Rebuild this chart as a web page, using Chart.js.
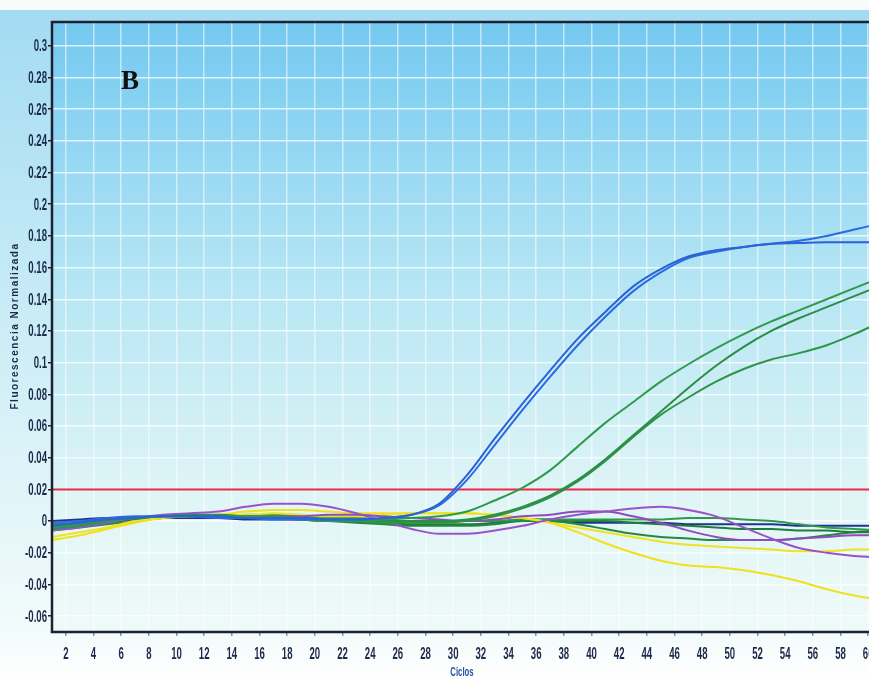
<!DOCTYPE html>
<html>
<head>
<meta charset="utf-8">
<script src="https://cdn.jsdelivr.net/npm/chart.js@4.4.0/dist/chart.umd.min.js"></script>
<style>
  html, body { margin: 0; padding: 0; background: #ffffff; overflow: hidden; }
  #wrap { width: 869px; height: 679px; overflow: hidden; }
  canvas { display: block; }
</style>
</head>
<body>
<div id="wrap"><canvas id="pcr" width="900" height="679"></canvas></div>
<script>
// Cycle positions of the sampled points
const cycles = [1, 3, 5, 7, 9, 11, 13, 15, 17, 19, 21, 23, 25, 27, 29, 31, 33, 35, 37, 39, 41, 43, 45, 47, 49, 51, 53, 55, 57, 59, 61];

// Amplified samples
const blueA = [-0.003, -0.001, 0.001, 0.002, 0.003, 0.003, 0.003, 0.002, 0.002, 0.002, 0.001, 0.001, 0.002, 0.004, 0.011, 0.029, 0.052, 0.074, 0.095, 0.115, 0.132, 0.148, 0.159, 0.167, 0.171, 0.173, 0.175, 0.1755, 0.176, 0.176, 0.176];
const blueB = [-0.001, 0.0, 0.002, 0.003, 0.003, 0.003, 0.002, 0.002, 0.001, 0.001, 0.001, 0.001, 0.002, 0.004, 0.010, 0.026, 0.048, 0.070, 0.091, 0.111, 0.129, 0.145, 0.157, 0.166, 0.170, 0.173, 0.175, 0.177, 0.180, 0.184, 0.188];
const greenA = [-0.004, -0.002, 0.0, 0.002, 0.003, 0.003, 0.003, 0.003, 0.002, 0.001, 0.0, 0.0, 0.001, 0.002, 0.003, 0.006, 0.013, 0.021, 0.032, 0.047, 0.062, 0.075, 0.088, 0.099, 0.109, 0.118, 0.126, 0.133, 0.140, 0.147, 0.154];
const greenB = [-0.003, -0.001, 0.001, 0.002, 0.003, 0.004, 0.004, 0.003, 0.002, 0.001, 0.0, 0.0, 0.0, 0.0, 0.0, 0.001, 0.004, 0.009, 0.016, 0.026, 0.039, 0.054, 0.069, 0.084, 0.098, 0.110, 0.120, 0.128, 0.135, 0.142, 0.149];
const greenC = [-0.005, -0.003, 0.0, 0.002, 0.003, 0.003, 0.003, 0.003, 0.003, 0.002, 0.001, 0.0, -0.001, -0.001, -0.001, 0.0, 0.003, 0.008, 0.015, 0.025, 0.038, 0.053, 0.067, 0.078, 0.088, 0.096, 0.102, 0.106, 0.111, 0.118, 0.126];

// Negative / background samples
const purpleA = [-0.006, -0.004, -0.001, 0.002, 0.004, 0.005, 0.006, 0.009, 0.011, 0.011, 0.009, 0.005, 0.0, -0.005, -0.008, -0.008, -0.006, -0.003, 0.001, 0.004, 0.006, 0.008, 0.009, 0.007, 0.003, -0.004, -0.011, -0.017, -0.020, -0.022, -0.023];
const purpleB = [-0.004, -0.002, 0.0, 0.002, 0.003, 0.003, 0.003, 0.003, 0.003, 0.003, 0.004, 0.004, 0.003, 0.002, 0.001, 0.0, 0.001, 0.003, 0.004, 0.006, 0.006, 0.003, -0.001, -0.006, -0.010, -0.012, -0.012, -0.011, -0.010, -0.009, -0.009];
const yellowA = [-0.012, -0.009, -0.005, -0.001, 0.002, 0.003, 0.004, 0.006, 0.007, 0.007, 0.006, 0.005, 0.005, 0.005, 0.005, 0.005, 0.004, 0.002, -0.001, -0.007, -0.014, -0.020, -0.025, -0.028, -0.029, -0.031, -0.034, -0.038, -0.043, -0.047, -0.050];
const yellowB = [-0.010, -0.007, -0.004, 0.0, 0.002, 0.003, 0.004, 0.004, 0.005, 0.004, 0.003, 0.003, 0.004, 0.005, 0.005, 0.005, 0.004, 0.002, -0.001, -0.004, -0.007, -0.010, -0.013, -0.015, -0.016, -0.017, -0.018, -0.019, -0.019, -0.018, -0.018];
const greenL1 = [-0.002, -0.001, 0.001, 0.002, 0.003, 0.003, 0.003, 0.004, 0.004, 0.003, 0.002, 0.002, 0.001, 0.0, 0.0, 0.0, 0.0, 0.001, 0.001, 0.001, 0.001, 0.001, 0.001, 0.002, 0.002, 0.001, 0.0, -0.002, -0.004, -0.005, -0.006];
const greenL2 = [-0.005, -0.003, -0.001, 0.001, 0.002, 0.003, 0.003, 0.003, 0.002, 0.002, 0.001, 0.0, -0.001, -0.002, -0.002, -0.002, -0.001, 0.001, 0.001, 0.0, 0.0, -0.001, -0.002, -0.003, -0.004, -0.005, -0.005, -0.006, -0.006, -0.007, -0.007];
const greenL3 = [-0.006, -0.004, -0.002, 0.0, 0.002, 0.003, 0.003, 0.003, 0.002, 0.001, 0.0, -0.001, -0.002, -0.003, -0.003, -0.003, -0.002, 0.0, 0.0, -0.002, -0.005, -0.008, -0.010, -0.011, -0.012, -0.012, -0.012, -0.011, -0.009, -0.007, -0.006];
const navyL = [0.0, 0.001, 0.002, 0.002, 0.002, 0.002, 0.002, 0.001, 0.001, 0.001, 0.001, 0.0, 0.0, 0.0, 0.0, 0.0, 0.0, 0.0, 0.0, -0.001, -0.001, -0.001, -0.001, -0.002, -0.002, -0.002, -0.002, -0.003, -0.003, -0.003, -0.003];

const threshold = 0.02;

// Axis ticks
const xTicks = [2, 4, 6, 8, 10, 12, 14, 16, 18, 20, 22, 24, 26, 28, 30, 32, 34, 36, 38, 40, 42, 44, 46, 48, 50, 52, 54, 56, 58, 60];
const yTicks = [-0.06, -0.04, -0.02, 0, 0.02, 0.04, 0.06, 0.08, 0.1, 0.12, 0.14, 0.16, 0.18, 0.2, 0.22, 0.24, 0.26, 0.28, 0.3];

const tickFont = "bold 16px 'Liberation Sans', Arial, sans-serif";
const squeeze = 0.6;

function series(values) {
    return cycles.map((c, i) => ({ x: c, y: values[i] }));
}

function line(values, color) {
    return {
        data: series(values),
        borderColor: color,
        borderWidth: 2,
        pointRadius: 0,
        cubicInterpolationMode: 'monotone',
        fill: false
    };
}

// narrow bold labels like the original instrument software
function squeezedText(ctx, text, x, y, align) {
    ctx.save();
    ctx.translate(x, y);
    ctx.scale(squeeze, 1);
    ctx.textAlign = align;
    ctx.fillText(text, 0, 0);
    ctx.restore();
}

// Backgrounds, frame and labels
const decor = {
    id: 'decor',
    beforeDraw(chart) {
        const { ctx, chartArea: a, width, height } = chart;
        ctx.save();
        ctx.fillStyle = '#f7fbfc';
        ctx.fillRect(0, 0, width, height);
        const outer = ctx.createLinearGradient(0, 10, 0, 679);
        outer.addColorStop(0, '#a3dbf2');
        outer.addColorStop(0.45, '#c9ecf6');
        outer.addColorStop(0.93, '#f3fbfb');
        outer.addColorStop(1, '#ffffff');
        ctx.fillStyle = outer;
        ctx.fillRect(0, 10, width, height - 10);
        const inner = ctx.createLinearGradient(0, a.top, 0, a.bottom);
        inner.addColorStop(0, '#74c8ef');
        inner.addColorStop(0.15, '#8ad3f2');
        inner.addColorStop(0.42, '#b4e5f4');
        inner.addColorStop(0.78, '#e0f5f6');
        inner.addColorStop(1, '#eefaf8');
        ctx.fillStyle = inner;
        ctx.fillRect(a.left, a.top, a.right - a.left, a.bottom - a.top);
        ctx.restore();
    },
    afterDraw(chart) {
        const { ctx, chartArea: a } = chart;
        const xs = chart.scales.x, ys = chart.scales.y;
        ctx.save();
        ctx.strokeStyle = '#1c2233';
        ctx.lineWidth = 2.5;
        ctx.beginPath();
        ctx.moveTo(a.right + 5, a.top);
        ctx.lineTo(a.left, a.top);
        ctx.lineTo(a.left, a.bottom);
        ctx.lineTo(a.right + 5, a.bottom);
        ctx.stroke();

        // tick labels, placed by the scales
        ctx.fillStyle = '#1c2a4a';
        ctx.font = tickFont;
        ctx.textBaseline = 'middle';
        ys.ticks.forEach(t => {
            squeezedText(ctx, String(+t.value.toFixed(2)), a.left - 5, ys.getPixelForValue(t.value) + 1, 'right');
        });
        xs.ticks.forEach(t => {
            squeezedText(ctx, String(t.value), xs.getPixelForValue(t.value), a.bottom + 23, 'center');
        });

        ctx.fillStyle = '#111111';
        ctx.font = "bold 27px 'Liberation Serif', 'DejaVu Serif', serif";
        ctx.textAlign = 'center';
        ctx.fillText('B', 130, 82);

        ctx.fillStyle = '#2452a8';
        ctx.font = "bold 13px 'Liberation Sans', Arial, sans-serif";
        squeezedText(ctx, 'Ciclos', 462, 672, 'center');

        ctx.translate(15, 326);
        ctx.rotate(-Math.PI / 2);
        ctx.fillStyle = '#1c2a4a';
        ctx.font = "bold 10px 'Liberation Sans', Arial, sans-serif";
        ctx.textAlign = 'center';
        ctx.letterSpacing = '1.5px';
        ctx.fillText('Fluorescencia Normalizada', 0, 0);
        ctx.restore();
    }
};

const ctx = document.getElementById('pcr').getContext('2d');
const chart = new Chart(ctx, {
    type: 'line',
    data: {
        datasets: [
            line(blueA, '#2b62d6'),
            line(blueB, '#2d6ae0'),
            line(greenA, '#2f9a4c'),
            line(greenB, '#2a8e44'),
            line(greenC, '#2f9448'),
            line(purpleA, '#9a52c9'),
            line(purpleB, '#8e4cc0'),
            line(yellowA, '#f1e11c'),
            line(yellowB, '#ede321'),
            line(greenL1, '#2f9a4c'),
            line(greenL2, '#1e7d38'),
            line(greenL3, '#27873f'),
            line(navyL, '#1d3490'),
            {
                data: [{ x: 1, y: threshold }, { x: 62.3, y: threshold }],
                borderColor: '#e8294a',
                borderWidth: 2,
                pointRadius: 0,
                fill: false
            }
        ]
    },
    options: {
        responsive: false,
        animation: false,
        layout: { padding: { top: 22, left: 0, right: 0, bottom: 0 } },
        plugins: { legend: { display: false }, tooltip: { enabled: false } },
        scales: {
            x: {
                type: 'linear',
                min: 1,
                max: 62.3,
                afterBuildTicks: axis => { axis.ticks = xTicks.map(v => ({ value: v })); },
                afterFit: axis => { axis.height = 47; },
                ticks: { display: false, autoSkip: false },
                grid: {
                    color: 'rgba(255,255,255,0.55)',
                    lineWidth: 1.5,
                    tickLength: 4,
                    tickColor: '#8a94a8'
                },
                border: { display: false }
            },
            y: {
                min: -0.07,
                max: 0.315,
                afterBuildTicks: axis => { axis.ticks = yTicks.map(v => ({ value: v })); },
                afterFit: axis => { axis.width = 52; },
                ticks: { display: false },
                grid: {
                    color: 'rgba(255,255,255,0.75)',
                    lineWidth: 1.5,
                    tickLength: 4,
                    tickColor: '#1c2233'
                },
                border: { display: false }
            }
        }
    },
    plugins: [decor]
});
</script>
</body>
</html>
